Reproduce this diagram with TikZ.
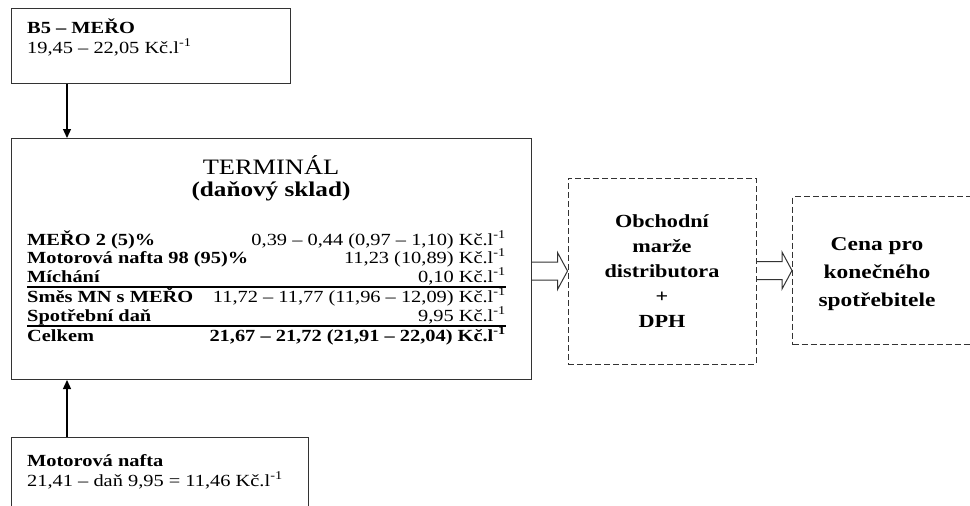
\documentclass[tikz,border=0pt]{standalone}
\usepackage{fontspec}
\setmainfont{Liberation Serif}[FakeStretch=1.2]
\usetikzlibrary{arrows.meta,calc}
\newcommand\kcl{Kč.l\textsuperscript{-1}}
\newcommand\openblock[2]{% hollow block arrow from node #1 to node #2
  \draw[openarrow] let \p1=(#1.east |- #2.west), \p2=(#2.west) in
    (\x1,{\y2+9pt}) -- ({\x2-10pt},{\y2+9pt}) -- ({\x2-10pt},{\y2+18.5pt})
    -- (\x2,\y2) -- ({\x2-10pt},{\y2-18.5pt}) -- ({\x2-10pt},{\y2-9pt}) -- (\x1,{\y2-9pt});}
\begin{document}
\begin{tikzpicture}[x=1pt,y=-1pt,
  box/.style={draw=black!80, line width=1pt, inner sep=0pt},
  dashbox/.style={box, dashed, dash pattern=on 6pt off 3pt},
  body/.style={inner sep=0pt, font=\fontsize{17}{20}\selectfont},
  lbl/.style={inner sep=0pt, anchor=base west, font=\bfseries\fontsize{17}{20}\selectfont},
  val/.style={body, anchor=base east},
  bval/.style={val, font=\bfseries\fontsize{17}{20}\selectfont},
  feed/.style={line width=1.2pt, -{Triangle[width=8pt,length=9pt]}},
  openarrow/.style={draw=black!80, line width=1pt},
  rowrule/.style={line width=1.3pt}]
\useasboundingbox (0,0) rectangle (970,506);
\begin{scope}
\clip (0,0) rectangle (970,506);

% source boxes and the terminal
\node[box, anchor=north west, minimum width=279pt, minimum height=75pt] (b5) at (11,8) {};
\node[box, anchor=north west, minimum width=520pt, minimum height=241pt] (term) at (11,138) {};
\node[box, anchor=north west, minimum width=297pt, minimum height=100pt] (mn) at (11,437) {};

% distribution boxes
\node[dashbox, minimum width=188pt, minimum height=186pt, align=center,
      font=\bfseries\fontsize{18.5}{25}\selectfont] (dist) at (662,271)
      {Obchodní\\marže\\distributora\\+\\DPH};
\node[dashbox, anchor=north west, minimum width=200pt, minimum height=148pt] (cena) at (792,196) {};
\node[align=center, inner sep=0pt, font=\bfseries\fontsize{19.5}{28}\selectfont] (cenatext) at (877,274)
      {Cena pro\\konečného\\spotřebitele};

% texts of the source boxes
\node[lbl] (b5a) at (27,33) {B5 – MEŘO};
\node[body, anchor=base west] (b5b) at (27,53) {19,45 – 22,05 \kcl};
\node[lbl] (mna) at (27,466) {Motorová nafta};
\node[body, anchor=base west] (mnb) at (27,486) {21,41 – daň 9,95 = 11,46 \kcl};

% terminal heading
\node[inner sep=0pt, font=\fontsize{22}{27}\selectfont] (termtitle) at (271,165) {TERMINÁL};
\node[inner sep=0pt, font=\bfseries\fontsize{21}{27}\selectfont] (termsub) at (271,191) {(daňový sklad)};

% cost breakdown
\node[lbl] (r1l) at (27,245) {MEŘO 2 (5)\%};
\node[val] (r1v) at (506,245) {0,39 – 0,44 (0,97 – 1,10) \kcl};
\node[lbl] (r2l) at (27,263) {Motorová nafta 98 (95)\%};
\node[val] (r2v) at (506,263) {11,23 (10,89) \kcl};
\node[lbl] (r3l) at (27,282) {Míchání};
\node[val] (r3v) at (506,282) {0,10 \kcl};
\node[lbl] (r4l) at (27,302) {Směs MN s MEŘO};
\node[val] (r4v) at (506,302) {11,72 – 11,77 (11,96 – 12,09) \kcl};
\node[lbl] (r5l) at (27,321) {Spotřební daň};
\node[val] (r5v) at (506,321) {9,95 \kcl};
\node[lbl] (r6l) at (27,341) {Celkem};
\node[bval] (r6v) at (506,341) {21,67 – 21,72 (21,91 – 22,04) \kcl};
\draw[rowrule] (27,287) -- (506,287);
\draw[rowrule] (27,326) -- (506,326);

% connectors
\coordinate (feedx) at (67,0);
\draw[feed] (b5.south -| feedx) -- (term.north -| feedx);
\draw[feed] (mn.north -| feedx) -- (term.south -| feedx);
\openblock{term}{dist}
\openblock{dist}{cena}
\end{scope}
\end{tikzpicture}
\end{document}
